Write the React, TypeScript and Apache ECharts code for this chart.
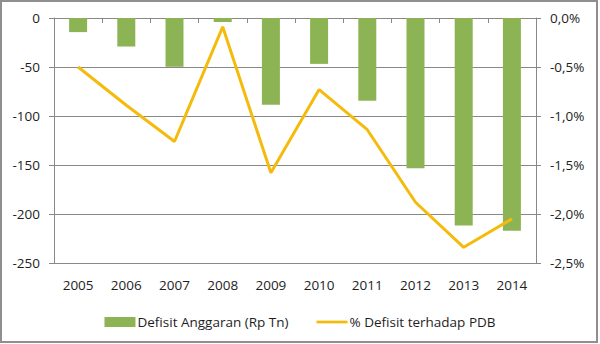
import React, { useEffect, useRef } from "react";
import * as echarts from "echarts";

const years = ["2005", "2006", "2007", "2008", "2009", "2010", "2011", "2012", "2013", "2014"];
const defisitRpTn = [-14.4, -29.1, -49.8, -4.1, -88.6, -46.8, -84.4, -153.3, -211.7, -217.0];
const defisitPctPDB = [-0.5, -0.89, -1.26, -0.09, -1.58, -0.73, -1.14, -1.88, -2.34, -2.05];
const barName = "Defisit Anggaran (Rp Tn)";
const lineName = "% Defisit terhadap PDB";

const FONT = "'Open Sans', sans-serif";
const FS = 13.5;
const GRID_C = "#888888";
const TEXT_C = "#1e1e1e";
const LINE_C = "#f5bb0c";

export default function App() {
  const ref = useRef<HTMLDivElement>(null);
  useEffect(() => {
    if (!ref.current) return;
    const chart = echarts.init(ref.current, undefined, { renderer: "svg" });
    chart.setOption({
      animation: false,
      backgroundColor: "#ffffff",
      textStyle: { fontFamily: FONT },
      grid: { left: 54, right: 64, top: 18, bottom: 81, containLabel: false },
      graphic: [
        {
          type: "rect",
          shape: { x: 1, y: 1, width: 596, height: 341 },
          style: { fill: "none", stroke: "#8f8f8f", lineWidth: 2 },
          silent: true,
        },
      ],
      legend: {
        left: "center",
        top: 310,
        itemWidth: 31,
        itemHeight: 10,
        itemGap: 28,
        symbolKeepAspect: true,
        itemStyle: { borderWidth: 0 },
        textStyle: { fontFamily: FONT, fontSize: FS, color: TEXT_C, padding: [0, 0, 0, -3] },
        data: [
          { name: barName, icon: "rect" },
          { name: lineName, icon: "path://M0 0 H34 V3 H0 Z", itemStyle: { color: LINE_C } },
        ],
      },
      xAxis: [
        {
          type: "category",
          data: years,
          position: "bottom",
          axisLine: { show: false },
          axisTick: { show: false },
          axisLabel: { fontFamily: FONT, fontSize: FS, color: TEXT_C, margin: 15 },
          splitLine: { show: false },
        },
        {
          type: "category",
          data: years,
          position: "top",
          axisLine: { show: true, lineStyle: { color: GRID_C, width: 1 } },
          axisTick: { show: true, inside: true, length: 5, lineStyle: { color: GRID_C } },
          axisLabel: { show: false },
          splitLine: { show: false },
        },
      ],
      yAxis: [
        {
          type: "value",
          min: -250,
          max: 0,
          interval: 50,
          position: "left",
          axisLine: { show: true, lineStyle: { color: GRID_C, width: 1 } },
          axisTick: { show: true, length: 5, lineStyle: { color: GRID_C } },
          axisLabel: { fontFamily: FONT, fontSize: FS, color: TEXT_C, margin: 14 },
          splitLine: { show: true, lineStyle: { color: GRID_C, width: 1 } },
        },
        {
          type: "value",
          min: -2.5,
          max: 0,
          interval: 0.5,
          position: "right",
          axisLine: { show: true, lineStyle: { color: GRID_C, width: 1 } },
          axisTick: { show: true, length: 5, lineStyle: { color: GRID_C } },
          axisLabel: {
            fontFamily: FONT,
            fontSize: FS,
            color: TEXT_C,
            margin: 14,
            formatter: (v: number) => (Math.abs(v) < 1e-9 ? 0 : v).toFixed(1).replace(".", ",") + "%",
          },
          splitLine: { show: false },
        },
      ],
      series: [
        {
          name: barName,
          type: "bar",
          xAxisIndex: 0,
          yAxisIndex: 0,
          data: defisitRpTn,
          barWidth: 18,
          itemStyle: { color: "#8db454" },
        },
        {
          name: lineName,
          type: "line",
          xAxisIndex: 0,
          yAxisIndex: 1,
          data: defisitPctPDB,
          symbol: "none",
          lineStyle: { color: LINE_C, width: 3 },
          itemStyle: { color: LINE_C },
        },
      ],
    });
    return () => chart.dispose();
  }, []);
  return (
    <div
      ref={ref}
      style={{ position: "fixed", left: 0, top: 0, width: 600, height: 344, background: "#fff" }}
    />
  );
}
